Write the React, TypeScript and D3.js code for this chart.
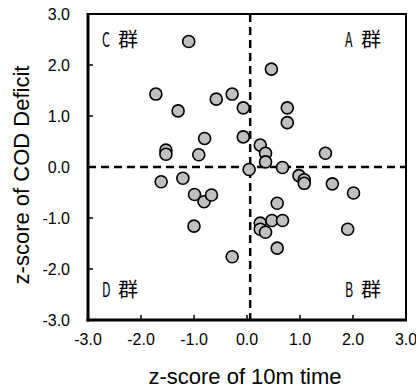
import React from 'react';
import * as d3 from 'd3';

// z-scores
const timeZ = [
  -1.10, -1.72, -1.30, -1.53, -1.53, -0.91, -0.80, -1.62, -1.21, -0.99,
  -0.81, -0.67, -1.00, -0.28, 0.46, -0.58, -0.28, -0.07, 0.76, 0.76,
  -0.07, 0.25, 0.35, 0.35, 0.04, 0.67, 1.48, 0.98, 1.08, 1.08,
  1.61, 2.01, 0.57, 0.25, 0.47, 0.67, 0.25, 0.35, 0.57, 1.90,
];
const codZ = [
  2.46, 1.43, 1.10, 0.33, 0.25, 0.24, 0.56, -0.29, -0.22, -0.54,
  -0.68, -0.55, -1.16, -1.76, 1.92, 1.33, 1.43, 1.16, 1.16, 0.87,
  0.59, 0.43, 0.27, 0.10, -0.05, -0.01, 0.27, -0.17, -0.25, -0.32,
  -0.33, -0.51, -0.71, -1.10, -1.05, -1.05, -1.22, -1.28, -1.59, -1.22,
];
const ticks = [-3, -2, -1, 0, 1, 2, 3];
const splitX = 0.06;
const splitY = 0;
const groups = [
  { letter: 'C', qx: -1, qy: 1 },
  { letter: 'A', qx: 1, qy: 1 },
  { letter: 'D', qx: -1, qy: -1 },
  { letter: 'B', qx: 1, qy: -1 },
];

const W = 416;
const H = 388;
const margin = { top: 14, right: 10, bottom: 68, left: 88 };

export default function App() {
  const x = d3.scaleLinear().domain([-3, 3]).range([margin.left, W - margin.right]);
  const y = d3.scaleLinear().domain([-3, 3]).range([H - margin.bottom, margin.top]);
  const font = 'Liberation Sans, Arial, sans-serif';
  const cjk = "'Noto Sans CJK JP', sans-serif";
  const pts = timeZ.map((t, i) => ({ t, c: codZ[i] }));

  return (
    <svg width={W} height={H} style={{ position: 'absolute', left: 0, top: 0, background: '#fff' }} fontFamily={font}>
      {/* frame */}
      <rect x={x(-3)} y={y(3)} width={x(3) - x(-3)} height={y(-3) - y(3)} fill="none" stroke="#000" strokeWidth={2} />
      <line x1={x(-3)} x2={x(-3)} y1={y(3) - 1} y2={y(-3) + 1.5} stroke="#000" strokeWidth={3} />
      <line x1={x(-3) - 1.5} x2={x(3) + 1} y1={y(-3)} y2={y(-3)} stroke="#000" strokeWidth={3} />

      {/* inward ticks */}
      {ticks.map(v => (
        <g key={'t' + v}>
          <line x1={x(-3)} x2={x(-3) + 5} y1={y(v)} y2={y(v)} stroke="#000" strokeWidth={1.5} />
          <line x1={x(v)} x2={x(v)} y1={y(-3)} y2={y(-3) - 5} stroke="#000" strokeWidth={1.5} />
          <text x={x(-3) - 18} y={y(v)} dy="0.36em" textAnchor="end" fontSize={16}>{v.toFixed(1)}</text>
          <text x={x(v)} y={y(-3) + 25} textAnchor="middle" fontSize={16}>{v.toFixed(1)}</text>
        </g>
      ))}

      {/* quadrant split lines */}
      <line x1={x(-3)} x2={x(3)} y1={y(splitY)} y2={y(splitY)} stroke="#000" strokeWidth={2.5} strokeDasharray="8,5" />
      <line x1={x(splitX)} x2={x(splitX)} y1={y(3)} y2={y(-3)} stroke="#000" strokeWidth={2.5} strokeDasharray="8,5" />

      {/* points */}
      {pts.map((p, i) => (
        <circle key={i} cx={x(p.t)} cy={y(p.c)} r={6} fill="#c0c0c0" stroke="#000" strokeWidth={1.6} />
      ))}

      {/* group labels */}
      {groups.map(g => {
        const lx = g.qx < 0 ? x(-3) + 14 : x(3) - 61;
        const ly = g.qy > 0 ? y(3) + 32.5 : y(-3) - 23.5;
        return (
          <g key={g.letter} fontFamily={cjk} fontSize={20}>
            <text transform={`translate(${lx},${ly}) scale(0.62,1)`}>{g.letter}</text>
            <text x={lx + 16} y={ly}>群</text>
          </g>
        );
      })}

      {/* axis titles */}
      <text x={(x(-3) + x(3)) / 2 - 2} y={H - 4} textAnchor="middle" fontSize={22}>z-score of 10m time</text>
      <text transform={`translate(29,175) rotate(-90)`} textAnchor="middle" fontSize={22}>z-score of COD Deficit</text>
    </svg>
  );
}
